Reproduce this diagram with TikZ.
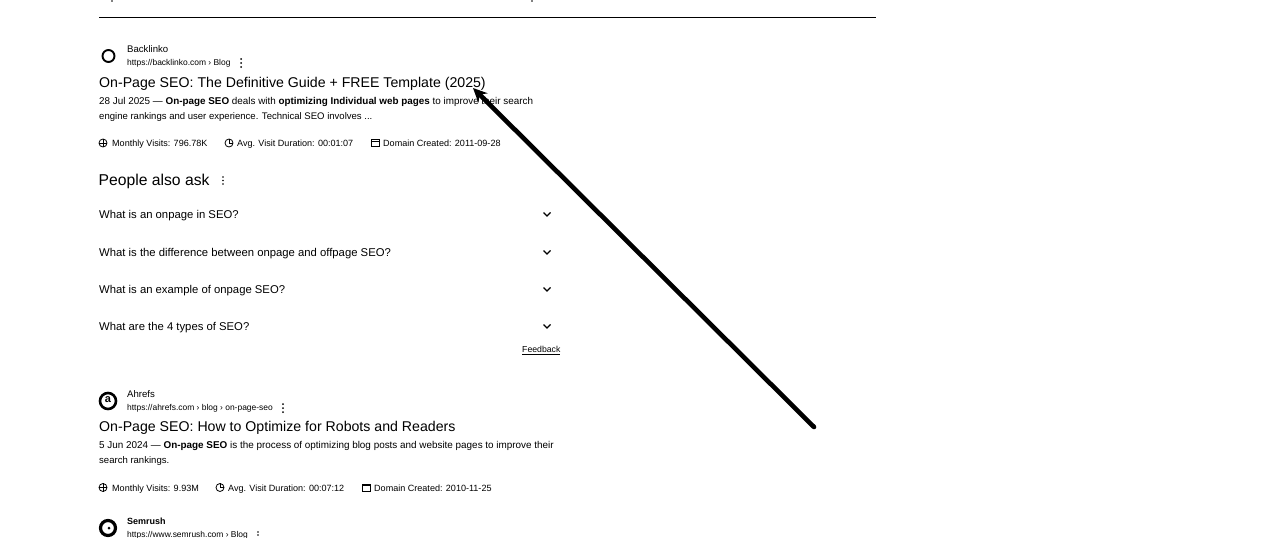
\documentclass[tikz,border=0pt]{standalone}
\usepackage{fontspec}
\setmainfont{Liberation Sans}
\usetikzlibrary{arrows.meta,positioning}
\begin{document}
\begin{tikzpicture}[x=1pt,y=-1pt,
    txt/.style={anchor=west,inner sep=0pt,text=black},
    site/.style={txt,font=\fontsize{9.6}{9.6}\selectfont},
    url/.style={txt,font=\fontsize{8.45}{8.45}\selectfont},
    headline/.style={txt,font=\fontsize{14.15}{14.15}\selectfont},
    snippet/.style={txt,font=\fontsize{9.55}{9.55}\selectfont},
    stats/.style={txt,anchor=base west,font=\fontsize{9.05}{9.05}\selectfont},
    question/.style={txt,font=\fontsize{11.3}{11.3}\selectfont},
    logo/.style={circle,draw,line width=1.9pt,inner sep=0pt,minimum size=12pt},
    small/.style={circle,draw,line width=0.8pt,inner sep=0pt,minimum size=8pt},
    cal/.style={rectangle,draw,line width=0.8pt,inner sep=0pt,minimum width=7.5pt,minimum height=7pt},
    dot/.style={circle,fill=black,inner sep=0pt,minimum size=2pt},
    chev/.style={line width=1.3pt},
    iconline/.style={line width=0.7pt},
    arrow/.style={-{Stealth[length=14pt,width=13pt]},line width=4.6pt}]
    \useasboundingbox (0,0) rectangle (1280,538);
    \fill[white] (0,0) rectangle (1280,538);
    \node[dot,minimum size=1.6pt] (speckA) at (112,1) {};
    \node[dot,minimum size=1.6pt] (speckB) at (532,1) {};
    \coordinate (ruleL) at (99,17);
    \coordinate (ruleR) at (876,17);
    \draw[line width=0.9pt] (ruleL) -- (ruleR);
    % first result
    \node[logo] (backlogo) at (108.5,56) {};
    \node[site] (back) at (127,49) {Backlinko};
    \node[url] (backurl) at (127,63) {https://backlinko.com › Blog};
    \node[dot] (backa) at (241,59) {};
    \node[dot] (backb) at (241,63) {};
    \node[dot] (backc) at (241,67) {};
    \node[headline] (backtitle) at (99,84) {On-Page SEO: The Definitive Guide + FREE Template (2025)};
    \node[txt,font=\fontsize{9.87}{9.87}\selectfont] (backtxt) at (99,101.5) {28 Jul 2025 — \textbf{On-page SEO} deals with \textbf{optimizing Individual web pages} to improve their search};
    \node[snippet] (backtxtb) at (99,117) {engine rankings and user experience. Technical SEO involves ...};
    \node[small] (backglobe) at (103,143) {};
    \node[stats] (backvis) at (112,146.5) {Monthly Visits: 796.78K};
    \node[small] (backclock) at (229,143) {};
    \node[stats] (backdur) at (237,146.5) {Avg. Visit Duration: 00:01:07};
    \node[cal] (backcal) at (375.5,143) {};
    \node[stats] (backdom) at (383,146.5) {Domain Created: 2011-09-28};
    % people also ask
    \node[txt,font=\fontsize{15.7}{15.7}\selectfont] (paa) at (98.5,181) {People also ask};
    \node[dot,minimum size=1.7pt] (paaa) at (223,177) {};
    \node[dot,minimum size=1.7pt] (paab) at (223,180.5) {};
    \node[dot,minimum size=1.7pt] (paac) at (223,184) {};
    \foreach \nm/\yy/\qq in {qa/214/What is an onpage in SEO?,
        qb/252/What is the difference between onpage and offpage SEO?,
        qc/289/What is an example of onpage SEO?,
        qd/326/What are the 4 types of SEO?} {
      \node[question] (\nm) at (99,\yy+1.3) {\qq};
      \coordinate (\nm l) at (543.5,\yy-1.5);
      \coordinate (\nm m) at (547,\yy+2);
      \coordinate (\nm r) at (550.5,\yy-1.5);
      \draw[chev] (\nm l) -- (\nm m) -- (\nm r);
    }
    \node[txt,font=\fontsize{8.7}{8.7}\selectfont] (feed) at (522,350.5) {\underline{Feedback}};
    % second result
    \node[logo,minimum size=16pt,line width=2.6pt] (ahlogo) at (108,401) {};
    \node[font=\bfseries\fontsize{11}{11}\selectfont,inner sep=0pt] (aha) at (108,400) {a};
    \node[site] (ah) at (127,394) {Ahrefs};
    \node[url] (ahurl) at (127,408) {https://ahrefs.com › blog › on-page-seo};
    \node[dot] (aha1) at (283,404) {};
    \node[dot] (aha2) at (283,408) {};
    \node[dot] (aha3) at (283,412) {};
    \node[headline] (ahtitle) at (99,428) {On-Page SEO: How to Optimize for Robots and Readers};
    \node[txt,font=\fontsize{9.9}{9.9}\selectfont] (ahtxt) at (99,446) {5 Jun 2024 — \textbf{On-page SEO} is the process of optimizing blog posts and website pages to improve their};
    \node[snippet] (ahtxtb) at (99,461.5) {search rankings.};
    \node[small] (ahglobe) at (103,487.5) {};
    \node[stats] (ahvis) at (112,491) {Monthly Visits: 9.93M};
    \node[small] (ahclock) at (220,487.5) {};
    \node[stats] (ahdur) at (228,491) {Avg. Visit Duration: 00:07:12};
    \node[cal] (ahcal) at (366.5,487.5) {};
    \node[stats] (ahdom) at (374,491) {Domain Created: 2010-11-25};
    % icon details
    \foreach \ic in {backglobe,ahglobe} {
      \draw[iconline] (\ic.west) -- (\ic.east);
      \draw[iconline] (\ic.north) -- (\ic.south);
    }
    \foreach \ic in {backclock,ahclock} {
      \draw[iconline] (\ic.north) -- (\ic.center) -- (\ic.east);
    }
    \foreach \ic in {backcal,ahcal} {
      \draw[iconline] ([yshift=-2pt]\ic.north west) -- ([yshift=-2pt]\ic.north east);
    }
    % third result
    \node[logo,minimum size=15pt,line width=3.2pt] (semlogo) at (108,528) {};
    \node[dot,minimum size=3pt] (semdot) at (109,528) {};
    \node[site,font=\bfseries\fontsize{9}{9}\selectfont] (sem) at (127,521.5) {Semrush};
    \node[url] (semurl) at (127,535) {https://www.semrush.com › Blog};
    \node[dot,minimum size=1.7pt] (sema) at (258,532) {};
    \node[dot,minimum size=1.7pt] (semb) at (258,535) {};
    % pointer
    \coordinate (tail) at (814,427);
    \coordinate (tip) at (473,88);
    \draw[arrow,line cap=round] (tail) -- (tip);
\end{tikzpicture}
\end{document}
